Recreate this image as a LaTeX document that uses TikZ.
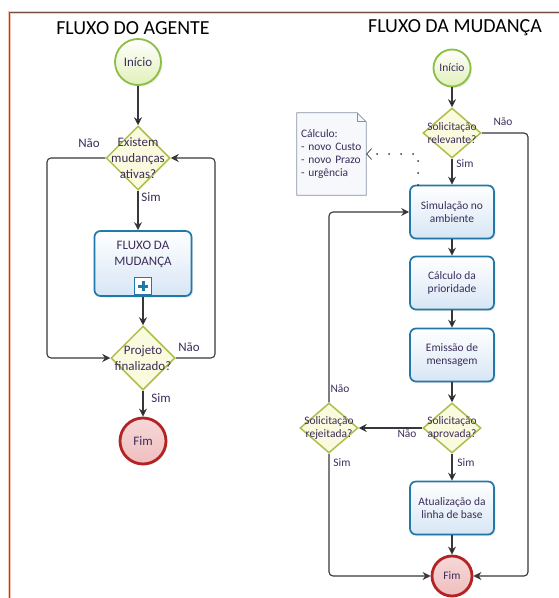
\documentclass[tikz,border=0pt]{standalone}
\usepackage{fontspec}
\setmainfont{Carlito}
\usetikzlibrary{shapes.geometric,arrows.meta,shadows,backgrounds}

\definecolor{txtc}{RGB}{60,45,90}
\definecolor{linec}{RGB}{55,55,60}
\definecolor{startc}{RGB}{140,190,70}
\definecolor{startf}{RGB}{225,240,185}
\definecolor{endc}{RGB}{180,35,35}
\definecolor{endf}{RGB}{240,190,190}
\definecolor{decc}{RGB}{175,190,75}
\definecolor{decf}{RGB}{250,250,222}
\definecolor{taskc}{RGB}{35,120,170}
\definecolor{taskf}{RGB}{215,230,245}
\definecolor{notec}{RGB}{135,145,165}
\definecolor{notef}{RGB}{246,248,252}
\definecolor{bordc}{RGB}{120,80,70}
\definecolor{bordh}{RGB}{248,200,180}

\begin{document}
\begin{tikzpicture}[x=1bp,y=-1bp,>={Stealth[length=8bp,width=8bp]}]
  \tikzset{
    every node/.style={text=txtc},
    shd/.style={drop shadow={opacity=0.18,shadow xshift=1.5bp,shadow yshift=-1.5bp}},
    big/.style={font=\fontsize{13}{16}\selectfont},
    small/.style={font=\fontsize{11.5}{13}\selectfont},
    title/.style={text=black,font=\fontsize{20}{24}\selectfont},
    startev/.style={circle,draw=startc,line width=1.8bp,top color=white,bottom color=startf,inner sep=0pt,shd},
    endev/.style={circle,draw=endc,line width=2.8bp,top color=endf!60!white,bottom color=endf,inner sep=0pt,shd},
    dec/.style={diamond,draw=decc,line width=1.5bp,fill=decf,inner sep=-12bp,align=center},
    task/.style={rectangle,rounded corners=6bp,draw=taskc,line width=1.7bp,top color=white,bottom color=taskf,
      minimum width=84bp,minimum height=53bp,align=center,shd},
    flow/.style={->,draw=linec,line width=1.1bp,rounded corners=4bp},
    assocl/.style={draw=linec,line width=2bp,line cap=round,dash pattern=on 0pt off 12bp,
      -{Straight Barb[length=5bp,width=11bp,line width=0.7bp]}}
  }

  \useasboundingbox (0,0) rectangle (559,598);
  \draw[bordc,line width=1bp,preaction={draw=bordh,line width=3bp}] (559,13) -- (9,13) -- (9,598);

  \node[title] (t1) at (133,28) {FLUXO DO AGENTE};
  \node[title] (t2) at (455,28) {FLUXO DA MUDANÇA};

  \node[startev,big,minimum size=46bp] (ini1) at (138,62) {Início};
  \node[dec,big,minimum width=64bp,minimum height=64bp] (ex) at (138,158) {Existem\\mudanças\\ativas?};
  \node[task,big,minimum width=97bp,minimum height=65bp,text depth=21bp] (sub) at (143,263.5) {FLUXO DA\\MUDANÇA};
  \node[draw=taskc,line width=1.5bp,fill=white,minimum size=17bp,inner sep=0pt] (plus) at (143,286) {};
  \node[dec,big,minimum width=64bp,minimum height=64bp] (proj) at (143,358) {Projeto\\finalizado?};
  \node[endev,big,minimum size=46bp] (fim1) at (143,441) {Fim};

  \draw[taskc,line width=3bp] ([xshift=-5bp]plus.center) -- ([xshift=5bp]plus.center)
    ([yshift=-5bp]plus.center) -- ([yshift=5bp]plus.center);

  \node[big] (n1) at (89,143) {Não};
  \node[big] (s1) at (151,197) {Sim};
  \node[big] (n2) at (189,347) {Não};
  \node[big] (s2) at (161,398) {Sim};

  \path[flow]
    (ini1) edge (ex)
    (sub) edge (proj)
    (proj) edge (fim1);
  \draw[flow] (ex.south) -- (ex.south |- sub.north);
  \draw[flow] (ex.west) -- (47,158) |- (proj.west);
  \draw[flow] (proj.east) -- (215,358) |- (ex.east);

  \node[startev,small,minimum size=37bp] (ini2) at (452,68) {Início};
  \node[dec,small,minimum width=58bp,minimum height=50bp] (rel) at (452,133) {Solicitação\\relevante?};
  \node[task,small] (simu) at (452,212) {Simulação no\\ambiente};
  \node[task,small] (calc) at (452,283) {Cálculo da\\prioridade};
  \node[task,small] (emis) at (452,355) {Emissão de\\mensagem};
  \node[dec,small,minimum width=58bp,minimum height=50bp] (apr) at (452,428) {Solicitação\\aprovada?};
  \node[dec,small,minimum width=58bp,minimum height=50bp] (rej) at (329,428) {Solicitação\\rejeitada?};
  \node[task,small] (atu) at (452,508) {Atualização da\\linha de base};
  \node[endev,small,minimum size=40bp] (fim2) at (452,576) {Fim};
  \node[small,minimum width=69bp,minimum height=82bp,text width=61bp,align=left] (nota) at (331.5,154)
    {Cálculo:\\- novo Custo\\- novo Prazo\\- urgência};

  \begin{scope}[on background layer]
    \draw[notec,fill=notef,line width=0.8bp] (nota.north west) -- ([xshift=-9bp]nota.north east)
      -- ([yshift=-9bp]nota.north east) -- (nota.south east) -- (nota.south west) -- cycle;
  \end{scope}
  \draw[notec,line width=0.8bp] ([xshift=-9bp]nota.north east) -- ([xshift=-9bp,yshift=-9bp]nota.north east)
    -- ([yshift=-9bp]nota.north east);

  \node[small] (n3) at (503,122) {Não};
  \node[small] (s3) at (465,164) {Sim};
  \node[small] (n4) at (407,434) {Não};
  \node[small] (n5) at (340,389) {Não};
  \node[small] (s4) at (342,463) {Sim};
  \node[small] (s5) at (466,463) {Sim};

  \coordinate (assoc) at (418,185);
  \draw[assocl] (assoc) |- (nota.east);

  \path[flow]
    (ini2) edge (rel)
    (rel) edge (simu)
    (simu) edge (calc)
    (calc) edge (emis)
    (emis) edge (apr)
    (apr) edge (rej)
    (apr) edge (atu)
    (atu) edge (fim2);
  \draw[flow] (rel.east) -- (528,133) |- (fim2.east);
  \draw[flow] (rej.north) |- (simu.west);
  \draw[flow] (rej.south) |- (fim2.west);
\end{tikzpicture}
\end{document}
